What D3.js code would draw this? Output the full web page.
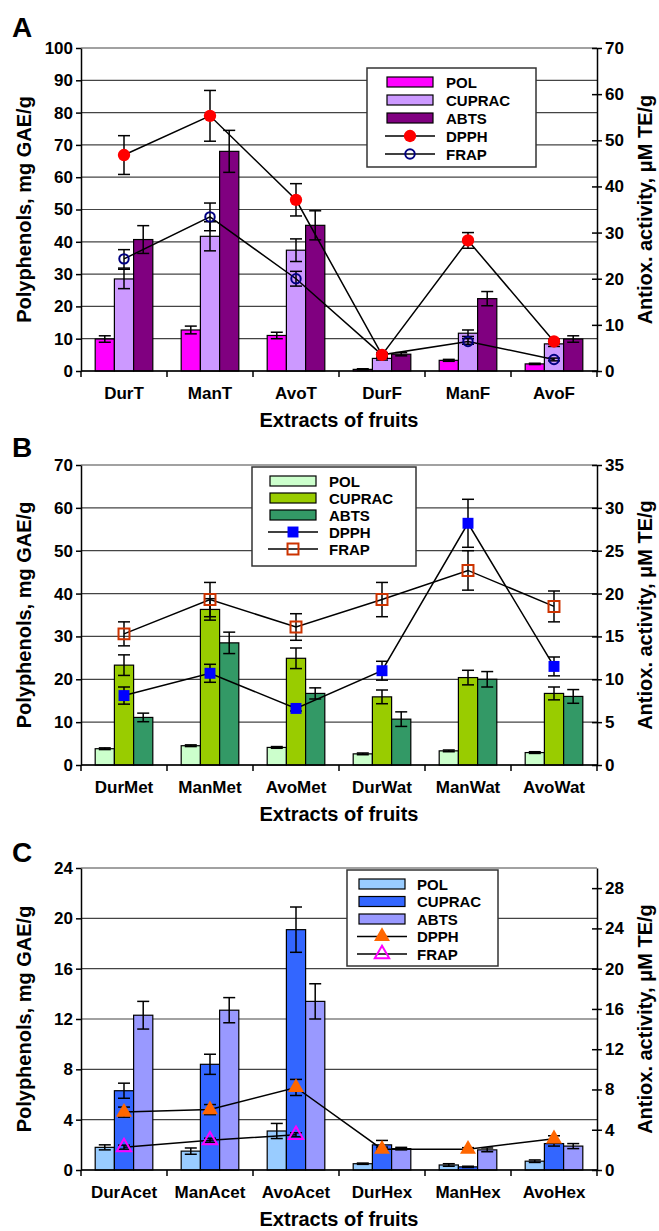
<!DOCTYPE html>
<html>
<head>
<meta charset="utf-8">
<script src="https://cdn.jsdelivr.net/npm/d3@7"></script>
<style>
  body { margin: 0; background: #fff; }
  svg text { font-family: "Liberation Sans", Arial, Helvetica, sans-serif; font-weight: bold; fill: #000; }
</style>
</head>
<body>
<svg id="chart" width="659" height="1231"></svg>
<script>
/* globals d3 */

const barSeries = ['POL', 'CUPRAC', 'ABTS'];
const lineSeries = ['DPPH', 'FRAP'];

/* panel A: total extracts / fractions */
const catsA = ['DurT', 'ManT', 'AvoT', 'DurF', 'ManF', 'AvoF'];
const polA = [9.9, 12.7, 11.0, 0.5, 3.3, 2.2];
const polErrA = [1.0, 1.2, 1.0, 0.2, 0.3, 0.2];
const cupracA = [28.5, 41.7, 37.4, 3.9, 11.7, 8.4];
const cupracErrA = [3.0, 4.5, 3.5, 0.5, 1.0, 0.8];
const abtsA = [40.7, 68.0, 45.1, 5.2, 22.4, 9.9];
const abtsErrA = [4.3, 6.5, 4.5, 0.5, 2.2, 1.0];
const dpphA = [46.8, 55.3, 37.1, 3.5, 28.3, 6.4];
const dpphErrA = [4.2, 5.5, 3.5, 0.5, 1.7, 0.5];
const frapA = [24.3, 33.4, 20.0, 3.5, 6.4, 2.5];
const frapErrA = [2.0, 3.0, 1.6, 0.3, 0.6, 0.3];
const leftTicksA = [0, 10, 20, 30, 40, 50, 60, 70, 80, 90, 100];
const rightTicksA = [0, 10, 20, 30, 40, 50, 60, 70];

/* panel B: methanol / water */
const catsB = ['DurMet', 'ManMet', 'AvoMet', 'DurWat', 'ManWat', 'AvoWat'];
const polB = [3.8, 4.5, 4.1, 2.6, 3.3, 2.9];
const polErrB = [0.2, 0.2, 0.2, 0.2, 0.2, 0.2];
const cupracB = [23.3, 36.3, 24.9, 15.9, 20.4, 16.7];
const cupracErrB = [2.4, 2.5, 2.4, 1.6, 1.7, 1.5];
const abtsB = [11.1, 28.5, 16.7, 10.7, 20.0, 16.0];
const abtsErrB = [1.0, 2.5, 1.3, 1.7, 1.8, 1.6];
const dpphB = [8.1, 10.7, 6.6, 11.0, 28.2, 11.5];
const dpphErrB = [1.0, 1.05, 0.3, 1.1, 2.8, 1.1];
const frapB = [15.3, 19.3, 16.1, 19.3, 22.7, 18.5];
const frapErrB = [1.4, 2.0, 1.55, 2.0, 2.3, 1.8];
const leftTicksB = [0, 10, 20, 30, 40, 50, 60, 70];
const rightTicksB = [0, 5, 10, 15, 20, 25, 30, 35];

/* panel C: acetone / hexane */
const catsC = ['DurAcet', 'ManAcet', 'AvoAcet', 'DurHex', 'ManHex', 'AvoHex'];
const polC = [1.8, 1.5, 3.1, 0.5, 0.4, 0.7];
const polErrC = [0.2, 0.25, 0.6, 0.05, 0.1, 0.1];
const cupracC = [6.3, 8.4, 19.1, 2.0, 0.25, 2.1];
const cupracErrC = [0.6, 0.8, 1.8, 0.35, 0.05, 0.2];
const abtsC = [12.3, 12.7, 13.4, 1.7, 1.6, 1.9];
const abtsErrC = [1.1, 1.0, 1.4, 0.1, 0.15, 0.2];
const dpphC = [5.75, 6.0, 8.2, 2.07, 2.07, 3.1];
const dpphErrC = [0.5, 0.5, 0.8, 0.2, 0.15, 0.3];
const frapC = [2.27, 2.96, 3.5, null, null, null];
const frapErrC = [0.2, 0.2, 0.2, null, null, null];
const leftTicksC = [0, 4, 8, 12, 16, 20, 24];
const rightTicksC = [0, 4, 8, 12, 16, 20, 24, 28];

const plotLeft = 81;
const plotRight = 597;

const panels = [
  {
    letter: 'A', letterY: 37, top: 48, bottom: 371,
    cats: catsA, bars: [polA, cupracA, abtsA], barErr: [polErrA, cupracErrA, abtsErrA],
    dpph: dpphA, dpphErr: dpphErrA, frap: frapA, frapErr: frapErrA,
    leftMax: 100, leftTicks: leftTicksA, rightMax: 70, rightTicks: rightTicksA,
    barColors: ['#ff00ff', '#cc99ff', '#800080'],
    dpphSym: d3.symbolCircle, dpphSize: 120, dpphColor: '#ff0000',
    frapSym: d3.symbolCircle, frapSize: 70, frapColor: '#000080',
    legend: { x: 367, y: 68, w: 169, h: 99, sw: 387, text: 446, row0: 82, step: 18 }
  },
  {
    letter: 'B', letterY: 457, top: 465, bottom: 765,
    cats: catsB, bars: [polB, cupracB, abtsB], barErr: [polErrB, cupracErrB, abtsErrB],
    dpph: dpphB, dpphErr: dpphErrB, frap: frapB, frapErr: frapErrB,
    leftMax: 70, leftTicks: leftTicksB, rightMax: 35, rightTicks: rightTicksB,
    barColors: ['#ccffcc', '#99cc00', '#339966'],
    dpphSym: d3.symbolSquare, dpphSize: 120, dpphColor: '#0000ff',
    frapSym: d3.symbolSquare, frapSize: 120, frapColor: '#cc3300',
    legend: { x: 252, y: 467, w: 164, h: 99, sw: 270, text: 329, row0: 481, step: 17 }
  },
  {
    letter: 'C', letterY: 862, top: 868, bottom: 1170,
    cats: catsC, bars: [polC, cupracC, abtsC], barErr: [polErrC, cupracErrC, abtsErrC],
    dpph: dpphC, dpphErr: dpphErrC, frap: frapC, frapErr: frapErrC,
    leftMax: 24, leftTicks: leftTicksC, rightMax: 30, rightTicks: rightTicksC,
    barColors: ['#99ccff', '#3366ff', '#9999ff'],
    dpphSym: d3.symbolTriangle, dpphSize: 110, dpphColor: '#ff6600',
    frapSym: d3.symbolTriangle, frapSize: 90, frapColor: '#ff00ff',
    legend: { x: 347, y: 870, w: 151, h: 96, sw: 359, text: 417, row0: 884, step: 17.5 }
  }
];

const svg = d3.select('#chart');

const errorBar = (g, x, yTop, yBot, cap) => {
  g.append('line').attr('x1', x).attr('x2', x).attr('y1', yTop).attr('y2', yBot)
    .attr('stroke', '#000').attr('stroke-width', 1.5);
  [yTop, yBot].forEach((yy) => {
    g.append('line').attr('x1', x - cap / 2).attr('x2', x + cap / 2).attr('y1', yy).attr('y2', yy)
      .attr('stroke', '#000').attr('stroke-width', 1.5);
  });
};

const drawPanel = (p) => {
  const g = svg.append('g');
  const x0 = d3.scaleBand().domain(p.cats).range([plotLeft, plotRight])
    .paddingInner(0.33).paddingOuter(0.165);
  const x1 = d3.scaleBand().domain(barSeries).range([0, x0.bandwidth()]);
  const yL = d3.scaleLinear().domain([0, p.leftMax]).range([p.bottom, p.top]);
  const yR = d3.scaleLinear().domain([0, p.rightMax]).range([p.bottom, p.top]);
  const midY = (p.top + p.bottom) / 2;

  /* gridlines */
  g.selectAll('.grid').data(p.leftTicks).join('line')
    .attr('x1', plotLeft).attr('x2', plotRight)
    .attr('y1', (d) => yL(d)).attr('y2', (d) => yL(d))
    .attr('stroke', '#444').attr('stroke-width', 1.2);

  /* bars */
  barSeries.forEach((s, si) => {
    g.selectAll(`.bar${si}`).data(p.cats).join('rect')
      .attr('x', (c) => x0(c) + x1(s))
      .attr('y', (c, i) => yL(p.bars[si][i]))
      .attr('width', x1.bandwidth())
      .attr('height', (c, i) => yL(0) - yL(p.bars[si][i]))
      .attr('fill', p.barColors[si])
      .attr('stroke', '#000').attr('stroke-width', 1.2);
  });
  barSeries.forEach((s, si) => {
    p.cats.forEach((c, i) => {
      const v = p.bars[si][i];
      const e = p.barErr[si][i];
      errorBar(g, x0(c) + x1(s) + x1.bandwidth() / 2, yL(v + e), yL(Math.max(0, v - e)), 12);
    });
  });

  /* line series */
  const cx = (c) => x0(c) + x0.bandwidth() / 2;
  [[p.dpph, p.dpphErr], [p.frap, p.frapErr]].forEach(([vals, errs]) => {
    const pts = p.cats.map((c, i) => ({ c, v: vals[i], e: errs[i] })).filter((d) => d.v !== null);
    g.append('path').datum(pts)
      .attr('d', d3.line().x((d) => cx(d.c)).y((d) => yR(d.v)))
      .attr('fill', 'none').attr('stroke', '#000').attr('stroke-width', 1.5);
    pts.forEach((d) => errorBar(g, cx(d.c), yR(d.v + d.e), yR(d.v - d.e), 12));
  });
  const marker = (sel, sym, size, color, filled) => sel
    .attr('d', d3.symbol().type(sym).size(size))
    .attr('fill', filled ? color : 'none')
    .attr('stroke', color).attr('stroke-width', filled ? 0 : 2);
  p.cats.forEach((c, i) => {
    if (p.frap[i] !== null) {
      marker(g.append('path'), p.frapSym, p.frapSize, p.frapColor, false)
        .attr('transform', `translate(${cx(c)},${yR(p.frap[i])})`);
    }
    marker(g.append('path'), p.dpphSym, p.dpphSize, p.dpphColor, true)
      .attr('transform', `translate(${cx(c)},${yR(p.dpph[i])})`);
  });

  /* left axis */
  const axL = g.append('g').attr('transform', `translate(${plotLeft},0)`)
    .call(d3.axisLeft(yL).tickValues(p.leftTicks).tickSize(5).tickSizeOuter(0).tickPadding(3));
  /* right axis with crossing ticks */
  const axR = g.append('g').attr('transform', `translate(${plotRight},0)`)
    .call(d3.axisRight(yR).tickValues(p.rightTicks).tickSize(5).tickSizeOuter(0).tickPadding(3));
  axR.selectAll('.tick line').attr('x1', -5);
  /* bottom axis: category labels, ticks on band boundaries */
  const axB = g.append('g').attr('transform', `translate(0,${p.bottom})`)
    .call(d3.axisBottom(x0).tickSize(0).tickPadding(16));
  axB.select('.domain').remove();
  g.append('line').attr('x1', plotLeft).attr('x2', plotRight)
    .attr('y1', p.bottom).attr('y2', p.bottom).attr('stroke', '#000').attr('stroke-width', 1.5);
  const bounds = p.cats.map((c) => x0(c) - (x0.step() - x0.bandwidth()) / 2)
    .concat([plotRight]);
  g.selectAll('.btick').data(bounds).join('line')
    .attr('x1', (d) => d).attr('x2', (d) => d)
    .attr('y1', p.bottom).attr('y2', p.bottom + 6)
    .attr('stroke', '#000').attr('stroke-width', 1.5);

  [axL, axR].forEach((ax) => {
    ax.select('.domain').attr('stroke', '#000').attr('stroke-width', 1.5);
    ax.selectAll('.tick line').attr('stroke', '#000').attr('stroke-width', 1.5);
    ax.selectAll('.tick text').attr('font-size', 17).attr('font-family', null);
  });
  axB.selectAll('.tick text').attr('font-size', 17).attr('font-family', null);

  /* titles */
  g.append('text').attr('x', 12).attr('y', p.letterY).attr('font-size', 28).text(p.letter);
  g.append('text').attr('transform', `translate(31,${midY}) rotate(-90)`)
    .attr('text-anchor', 'middle').attr('font-size', 20).text('Polyphenols, mg GAE/g');
  g.append('text').attr('transform', `translate(652,${midY}) rotate(-90)`)
    .attr('text-anchor', 'middle').attr('font-size', 20).text('Antiox. activity, \u03bcM TE/g');
  g.append('text').attr('x', (plotLeft + plotRight) / 2).attr('y', p.bottom + 56)
    .attr('text-anchor', 'middle').attr('font-size', 20).text('Extracts of fruits');

  /* legend */
  const L = p.legend;
  const lg = g.append('g');
  lg.append('rect').attr('x', L.x).attr('y', L.y).attr('width', L.w).attr('height', L.h)
    .attr('fill', '#fff').attr('stroke', '#333').attr('stroke-width', 1.5);
  barSeries.forEach((s, si) => {
    const yy = L.row0 + si * L.step;
    lg.append('rect').attr('x', L.sw).attr('y', yy - 5).attr('width', 46).attr('height', 10)
      .attr('fill', p.barColors[si]).attr('stroke', '#000').attr('stroke-width', 1.2);
    lg.append('text').attr('x', L.text).attr('y', yy + 5.5).attr('font-size', 15).text(s);
  });
  lineSeries.forEach((s, li) => {
    const yy = L.row0 + (li + 3) * L.step;
    lg.append('line').attr('x1', L.sw - 2).attr('x2', L.sw + 48).attr('y1', yy).attr('y2', yy)
      .attr('stroke', '#000').attr('stroke-width', 1.5);
    if (li === 0) {
      marker(lg.append('path'), p.dpphSym, p.dpphSize, p.dpphColor, true)
        .attr('transform', `translate(${L.sw + 23},${yy})`);
    } else {
      marker(lg.append('path'), p.frapSym, p.frapSize, p.frapColor, false)
        .attr('transform', `translate(${L.sw + 23},${yy})`);
    }
    lg.append('text').attr('x', L.text).attr('y', yy + 5.5).attr('font-size', 15).text(s);
  });
};

panels.forEach(drawPanel);
</script>
</body>
</html>
